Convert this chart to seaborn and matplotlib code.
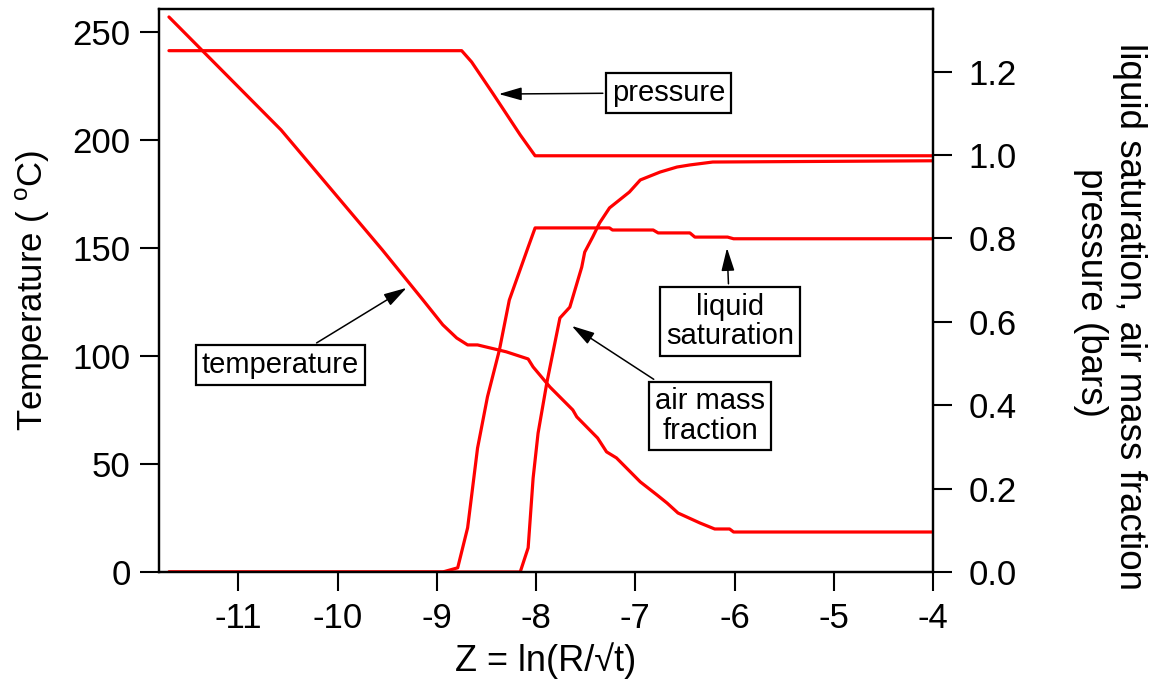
import matplotlib
matplotlib.use("Agg")
import matplotlib.pyplot as plt
import seaborn as sns
import pandas as pd

# temperature profile (left axis, deg C)
temp_z = [-11.70, -10.57, -9.55, -9.14, -8.94, -8.80, -8.69, -8.59, -8.30, -8.08,
          -8.03, -7.86, -7.63, -7.59, -7.38, -7.29, -7.19, -6.95, -6.78, -6.68,
          -6.57, -6.35, -6.20, -6.05, -6.01, -4.00]
temp_c = [256.9, 204.6, 149.1, 125.9, 114.4, 108.3, 105.1, 105.1, 101.9, 98.6,
          94.9, 85.6, 75.0, 71.8, 62.0, 55.6, 52.8, 41.7, 35.6, 31.9,
          27.3, 22.7, 19.9, 19.9, 18.5, 18.5]

# pressure (right axis, bars)
pres_z = [-11.70, -8.75, -8.65, -8.44, -8.34, -8.16, -8.01, -4.00]
pres_bar = [1.25, 1.25, 1.223, 1.149, 1.113, 1.048, 0.998, 0.998]

# liquid saturation (right axis)
sat_z = [-11.70, -8.94, -8.79, -8.69, -8.59, -8.49, -8.37, -8.27, -8.08, -8.01,
         -7.26, -7.23, -6.82, -6.77, -6.45, -6.40, -6.07, -6.01, -4.00]
sat_val = [0.0, 0.0, 0.01, 0.106, 0.297, 0.42, 0.532, 0.652, 0.779, 0.825,
           0.825, 0.82, 0.82, 0.813, 0.813, 0.803, 0.803, 0.799, 0.799]

# air mass fraction (right axis)
air_z = [-11.70, -8.16, -8.08, -8.03, -7.98, -7.89, -7.76, -7.66, -7.54, -7.51,
         -7.43, -7.36, -7.26, -7.06, -6.95, -6.75, -6.58, -6.45, -6.22, -4.00]
air_val = [0.0, 0.0, 0.058, 0.225, 0.333, 0.456, 0.609, 0.635, 0.731, 0.767,
           0.803, 0.837, 0.873, 0.911, 0.94, 0.959, 0.971, 0.976, 0.983, 0.986]

x_ticks = [-11, -10, -9, -8, -7, -6, -5, -4]
left_ticks = [0, 50, 100, 150, 200, 250]
right_ticks = [0.0, 0.2, 0.4, 0.6, 0.8, 1.0, 1.2]

sns.set_style("ticks")
plt.rcParams['font.family'] = ['Liberation Sans', 'DejaVu Sans']
plt.rcParams['mathtext.fontset'] = 'custom'
plt.rcParams['mathtext.rm'] = 'Liberation Sans'
plt.rcParams['axes.unicode_minus'] = False
plt.rcParams['text.color'] = 'black'
plt.rcParams['axes.labelcolor'] = 'black'
plt.rcParams['xtick.color'] = 'black'
plt.rcParams['ytick.color'] = 'black'

red = '#ff0000'
lw = 2.3

fig = plt.figure(figsize=(11.54, 6.85), dpi=100)
ax = fig.add_axes([0.1378, 0.1650, 0.6707, 0.8219])
ax2 = ax.twinx()

temp_df = pd.DataFrame({'z': temp_z, 'T': temp_c})
sns.lineplot(data=temp_df, x='z', y='T', ax=ax, color=red, linewidth=lw,
             estimator=None, sort=False)

for zs, vals in [(pres_z, pres_bar), (sat_z, sat_val), (air_z, air_val)]:
    df = pd.DataFrame({'z': zs, 'v': vals})
    sns.lineplot(data=df, x='z', y='v', ax=ax2, color=red, linewidth=lw,
                 estimator=None, sort=False)

ax.set_xlim(-11.80, -4.0)
ax.set_ylim(0, 260.6)
ax2.set_ylim(0, 1.350)
ax.set_xticks(x_ticks)
ax.set_xticklabels([str(t) for t in x_ticks])
ax.set_yticks(left_ticks)
ax2.set_yticks(right_ticks)
ax2.set_yticklabels([f"{t:.1f}" for t in right_ticks])

for a in (ax, ax2):
    for s in a.spines.values():
        s.set_visible(True)
        s.set_linewidth(1.6)
        s.set_color('black')
ax.tick_params(axis='both', direction='out', length=13.5, width=1.5,
               labelsize=25, colors='black')
ax.tick_params(axis='y', pad=7)
ax.tick_params(axis='x', pad=8)
ax2.tick_params(axis='y', direction='out', length=13.5, width=1.5,
                labelsize=25, pad=12, colors='black')

ax.set_xlabel('Z = ln(R/\u221at)', fontsize=26)
ax.xaxis.set_label_coords(0.5, -0.125)
ax.set_ylabel('Temperature ( $^{\\mathrm{o}}$C)', fontsize=25)
ax.yaxis.set_label_coords(-0.138, 0.5)
ax2.set_ylabel('')

# right axis title, two lines, slightly offset as in the original
ax2.text(1.2545, 0.453, 'liquid saturation, air mass fraction', transform=ax2.transAxes,
         rotation=270, rotation_mode='anchor', ha='center', va='center', fontsize=26.5)
ax2.text(1.204, 0.497, 'pressure (bars)', transform=ax2.transAxes,
         rotation=270, rotation_mode='anchor', ha='center', va='center', fontsize=26.5)

box = dict(boxstyle='square,pad=0.2', fc='white', ec='black', lw=1.6)
arrow = dict(arrowstyle='-|>,head_length=0.7,head_width=0.2', color='black',
             lw=1.1, mutation_scale=20, shrinkB=0)

ax2.annotate('pressure', xy=(-8.376, 1.146), xytext=(-6.661, 1.149),
             fontsize=21, ha='center', va='center', bbox=box, arrowprops=arrow)
ax.annotate('temperature', xy=(-9.305, 131.5), xytext=(-10.576, 95.8),
            fontsize=21, ha='center', va='center', bbox=box, arrowprops=arrow)
ax2.annotate('liquid\nsaturation', xy=(-6.076, 0.777), xytext=(-6.046, 0.600),
             fontsize=21, ha='center', va='center', bbox=box, arrowprops=arrow,
             linespacing=1.05)
ax2.annotate('air mass\nfraction', xy=(-7.64, 0.590), xytext=(-6.247, 0.374),
             fontsize=21, ha='center', va='center', bbox=box, arrowprops=arrow,
             linespacing=1.05)

ax.set_zorder(ax2.get_zorder() + 1)
ax.patch.set_visible(False)

fig.savefig('out.png', dpi=100)
